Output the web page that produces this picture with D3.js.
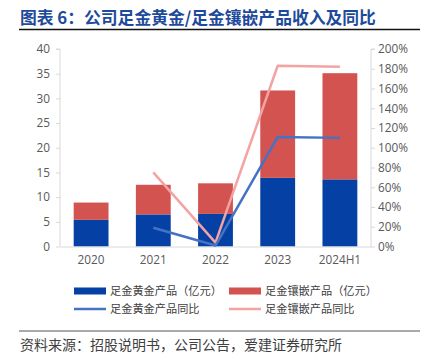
<!DOCTYPE html>
<html><head><meta charset="utf-8">
<script src="https://cdn.jsdelivr.net/npm/d3@7"></script>
<style>body{margin:0;background:#fff;}svg{display:block;font-family:"Noto Sans CJK SC","Noto Sans",sans-serif;}</style>
</head><body>
<script>
const categories = ["2020","2021","2022","2023","2024H1"];
const goldRevenue = [5.4, 6.5, 6.6, 13.9, 13.6];
const inlayRevenue = [3.5, 6.0, 6.2, 17.7, 21.5];
const goldYoY = [null, 19, 1, 111, 110];
const inlayYoY = [null, 75, 4, 183, 182];
const leftTicks = [0,5,10,15,20,25,30,35,40];
const rightTicks = [0,20,40,60,80,100,120,140,160,180,200];
const seriesNames = ["足金黄金产品（亿元）","足金镶嵌产品（亿元）","足金黄金产品同比","足金镶嵌产品同比"];
const colors = ["#0541A5","#D35350","#4472C4","#F4A3A3"];

const W=425,H=359;
const svg=d3.select("body").append("svg").attr("width",W).attr("height",H);
const x0=60,x1=371,yTop=49,yBot=246.5;
const x=d3.scaleBand().domain(categories).range([x0,x1]).paddingInner(0.44).paddingOuter(0.22);
const yL=d3.scaleLinear().domain([0,40]).range([yBot,yTop]);
const yR=d3.scaleLinear().domain([0,200]).range([yBot,yTop]);

// title
svg.append("text").attr("x",20).attr("y",23.5).attr("fill","#1E4A9C").attr("font-size",16.8).attr("font-weight","bold").text("图表 6：公司足金黄金/足金镶嵌产品收入及同比");
svg.append("line").attr("x1",19).attr("x2",420).attr("y1",29.5).attr("y2",29.5).attr("stroke","#111").attr("stroke-width",1.3);

// axes
const gL=svg.append("g").attr("transform",`translate(${x0},0)`).call(d3.axisLeft(yL).tickValues(leftTicks).tickSize(4).tickPadding(6));
const gR=svg.append("g").attr("transform",`translate(${x1},0)`).call(d3.axisRight(yR).tickValues(rightTicks).tickSize(4).tickPadding(3).tickFormat(d=>d+"%"));
[gL,gR].forEach(g=>{g.selectAll("path,line").attr("stroke","#d9d9d9");g.selectAll("text").attr("fill","#595959").attr("font-size",11.8).attr("font-family","'Open Sans','Noto Sans',sans-serif");});
gL.select("path").attr("d",`M-4,${yTop}H0V${yBot}`);
gR.select("path").attr("d",`M4,${yTop}H0V${yBot}`);

// bars
const stack=categories.map((c,i)=>({c,g:goldRevenue[i],r:inlayRevenue[i]}));
svg.append("g").selectAll("rect").data(stack).join("rect").attr("x",d=>x(d.c)).attr("width",x.bandwidth()).attr("y",d=>yL(d.g)).attr("height",d=>yL(0)-yL(d.g)).attr("fill",colors[0]);
svg.append("g").selectAll("rect").data(stack).join("rect").attr("x",d=>x(d.c)).attr("width",x.bandwidth()).attr("y",d=>yL(d.g+d.r)).attr("height",d=>yL(d.g)-yL(d.g+d.r)).attr("fill",colors[1]);

const xAxis=svg.append("g").attr("transform",`translate(0,${yBot})`).call(d3.axisBottom(x).tickSize(0).tickPadding(9));
xAxis.select("path").attr("stroke","#d9d9d9");
xAxis.selectAll("text").attr("fill","#595959").attr("font-size",11.8).attr("font-family","'Open Sans','Noto Sans',sans-serif");

// lines
const cx=c=>x(c)+x.bandwidth()/2;
function drawLine(vals,col){
  const pts=categories.map((c,i)=>({c,v:vals[i]})).filter(d=>d.v!=null);
  svg.append("path").datum(pts).attr("fill","none").attr("stroke",col).attr("stroke-width",2.5).attr("stroke-linejoin","round")
    .attr("d",d3.line().x(d=>cx(d.c)).y(d=>yR(d.v)));
}
drawLine(inlayYoY,colors[3]);
drawLine(goldYoY,colors[2]);

// legend
const lg=svg.append("g").attr("font-size",11.2).attr("fill","#404040");
const items=[{x:74,y:291,t:"rect",c:colors[0],n:seriesNames[0]},{x:229,y:291,t:"rect",c:colors[1],n:seriesNames[1]},
 {x:74,y:309,t:"line",c:colors[2],n:seriesNames[2]},{x:229,y:309,t:"line",c:colors[3],n:seriesNames[3]}];
items.forEach(it=>{
  if(it.t==="rect") lg.append("rect").attr("x",it.x).attr("y",it.y-3.5).attr("width",32).attr("height",7).attr("fill",it.c);
  else lg.append("line").attr("x1",it.x).attr("x2",it.x+32).attr("y1",it.y).attr("y2",it.y).attr("stroke",it.c).attr("stroke-width",2.5);
  lg.append("text").attr("x",it.x+36).attr("y",it.y+4).attr("fill","#404040").text(it.n);
});

// source
svg.append("line").attr("x1",19).attr("x2",420).attr("y1",331).attr("y2",331).attr("stroke","#555").attr("stroke-width",1.2);
svg.append("text").attr("x",20).attr("y",350).attr("font-size",14).attr("fill","#404040").text("资料来源：招股说明书，公司公告，爱建证券研究所");
</script>
</body></html>
